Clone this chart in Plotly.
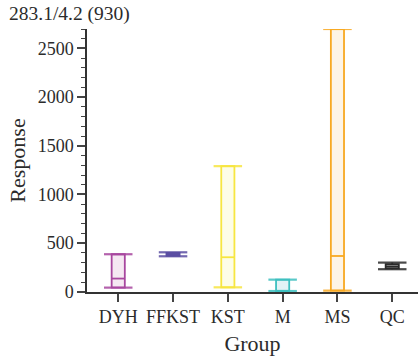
import plotly.graph_objects as go

# Group summary statistics (whisker ends, box edges, median)
groups = ["DYH", "FFKST", "KST", "M", "MS", "QC"]
low = [43, 365, 46, 8, 12, 232]
q1 = [43, 370, 46, 8, 12, 242]
median = [136, 385, 355, 10, 368, 262]
q3 = [386, 400, 1291, 125, 2700, 284]
high = [386, 406, 1291, 125, 2700, 300]

line_colors = ["#a8479f", "#5b4ea3", "#f7e640", "#3ec0c0", "#f8a922", "#2b2b2b"]
fill_colors = ["#f5e8f2", "#6e5fb3", "#fdfde6", "#e3f3f6", "#fdf4e6", "#f0f0f0"]

box_w = 0.24
cap_w = 0.52
font = "Liberation Serif, Times New Roman, serif"

fig = go.Figure()

for i, g in enumerate(groups):
    lc, fc = line_colors[i], fill_colors[i]
    # box body from q1 to q3
    fig.add_trace(go.Bar(
        x=[i], y=[q3[i] - q1[i]], base=[q1[i]], width=box_w,
        marker=dict(color=fc, line=dict(color=lc, width=1.8)),
        showlegend=False, hoverinfo="skip",
    ))
    # median line
    fig.add_trace(go.Scatter(
        x=[i - box_w / 2, i + box_w / 2], y=[median[i], median[i]],
        mode="lines", line=dict(color=lc, width=1.8),
        showlegend=False, hoverinfo="skip",
    ))
    # whisker stems and caps
    for a, b in ((low[i], q1[i]), (q3[i], high[i])):
        if b > a:
            fig.add_trace(go.Scatter(
                x=[i, i], y=[a, b], mode="lines",
                line=dict(color=lc, width=1.8),
                showlegend=False, hoverinfo="skip",
            ))
    for v in (low[i], high[i]):
        fig.add_trace(go.Scatter(
            x=[i - cap_w / 2, i + cap_w / 2], y=[v, v],
            mode="lines", line=dict(color=lc, width=2.2),
            opacity=0.85, showlegend=False, hoverinfo="skip",
        ))

fig.update_layout(
    width=418, height=360,
    margin=dict(l=87, r=0, t=29, b=68),
    plot_bgcolor="white", paper_bgcolor="white",
    font=dict(family=font, size=18, color="#2b2b2b"),
    barmode="overlay",
    annotations=[dict(
        text="283.1/4.2 (930)", xref="paper", yref="paper",
        x=-80 / 331, y=1, yshift=15, xanchor="left", yanchor="middle",
        showarrow=False, font=dict(family=font, size=19.5, color="#2b2b2b"),
    )],
)

fig.update_xaxes(
    range=[-0.57, 5.47],
    tickmode="array", tickvals=list(range(len(groups))), ticktext=groups,
    showline=True, linecolor="#333", linewidth=1.5,
    ticks="outside", ticklen=8, tickwidth=1.5, tickcolor="#444",
    showgrid=False, zeroline=False,
    title=dict(text="Group", standoff=9),
)
fig.update_yaxes(
    range=[-2, 2700],
    tick0=0, dtick=500,
    showline=True, linecolor="#333", linewidth=1.5,
    ticks="outside", ticklen=8, tickwidth=1.5, tickcolor="#444",
    minor=dict(dtick=100, ticks="outside", ticklen=4, tickwidth=1, tickcolor="#444"),
    showgrid=False, zeroline=False,
    title=dict(text="Response", standoff=6),
)

fig.write_html("out.html")
